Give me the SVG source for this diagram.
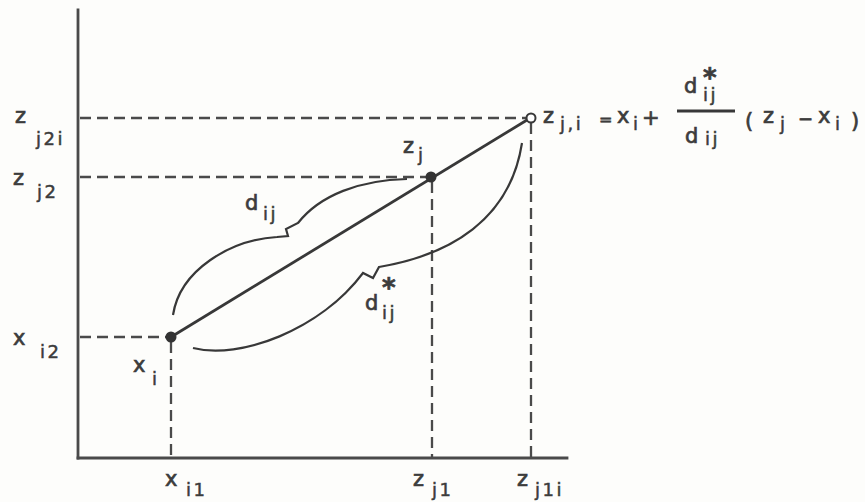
<svg xmlns="http://www.w3.org/2000/svg" width="865" height="502" viewBox="0 0 865 502">
<style>
.ax{stroke:#4a4a4a;stroke-width:2.8;fill:none;stroke-linecap:square}
.dash{stroke:#4a4a4a;stroke-width:2.3;fill:none;stroke-dasharray:11 6}
.ln{stroke:#383838;stroke-width:2.8;fill:none}
.br{stroke:#383838;stroke-width:2.2;fill:none;stroke-linejoin:miter}
.t{font-family:"DejaVu Sans","Liberation Sans",sans-serif;font-size:21px;fill:#3c3c3c;stroke:#3c3c3c;stroke-width:0.7}
.s{font-size:18px;letter-spacing:2.5px;stroke-width:0.5}
.st{font-weight:bold;font-size:26px;letter-spacing:0}
.dot{fill:#333}
.open{fill:#fff;stroke:#383838;stroke-width:2}
</style>
<rect width="865" height="502" fill="#fdfdfb"/>
<g id="axes">
<line class="ax" x1="78" y1="10" x2="78" y2="458"/>
<line class="ax" x1="78" y1="458" x2="567" y2="458"/>
</g>
<g id="guides">
<line class="dash" x1="80" y1="118" x2="526" y2="118"/>
<line class="dash" x1="80" y1="177" x2="426" y2="177"/>
<line class="dash" x1="80" y1="337" x2="166" y2="337"/>
<line class="dash" x1="171" y1="342" x2="171" y2="457"/>
<line class="dash" x1="432" y1="182" x2="432" y2="457"/>
<line class="dash" x1="531" y1="123" x2="531" y2="457"/>
</g>
<g id="connectors">
<line class="ln" x1="171" y1="337" x2="527" y2="120"/>
<path class="br" d="M173,315 C180,270 230,240 277,237 L288,236 L286,229 L298,223 C320,195 360,180 407,179"/>
<path class="br" d="M193,348 C240,360 320,330 363,273 L373,278 L379,267 C450,255 510,220 522,143"/>
</g>
<g id="node-xi">
<circle class="dot" cx="171" cy="337" r="5.5"/>
<text class="t" x="133" y="372">x<tspan class="s" x="152" y="385">i</tspan></text>
</g>
<g id="node-zj">
<circle class="dot" cx="431" cy="177" r="5.5"/>
<text class="t" x="403" y="153">z<tspan class="s" x="418" y="161">j</tspan></text>
</g>
<g id="node-zji">
<circle class="open" cx="531" cy="118" r="4.5"/>
<text class="t" x="543" y="123">z<tspan class="s" x="560" y="130">j,i</tspan></text>
<text class="t" x="599" y="125" style="font-size:16px">=</text>
<text class="t" x="617" y="123">x<tspan class="s" x="633" y="130">i</tspan></text>
<text class="t" x="642" y="125">+</text>
<line class="ln" x1="677" y1="111" x2="735" y2="111"/>
<text class="t" x="684" y="93">d<tspan class="st" x="703" y="87">*</tspan><tspan class="s" x="703" y="101">ij</tspan></text>
<text class="t" x="685" y="143">d<tspan class="s" x="705" y="145">ij</tspan></text>
<text class="t" x="745" y="128">(</text>
<text class="t" x="763" y="123">z<tspan class="s" x="780" y="130">j</tspan></text>
<text class="t" x="798" y="125" style="font-size:18px">−</text>
<text class="t" x="818" y="123">x<tspan class="s" x="835" y="130">i</tspan></text>
<text class="t" x="851" y="128">)</text>
</g>
<g id="brace-labels">
<text class="t" x="245" y="210">d<tspan class="s" x="263" y="220">ij</tspan></text>
<text class="t" x="365" y="310">d<tspan class="st" x="382" y="297">*</tspan><tspan class="s" x="382" y="319">ij</tspan></text>
</g>
<g id="axis-labels">
<text class="t" x="15" y="123">z<tspan class="s" x="36" y="145">j2i</tspan></text>
<text class="t" x="13" y="185">z<tspan class="s" x="37" y="198">j2</tspan></text>
<text class="t" x="13" y="345">x<tspan class="s" x="40" y="358">i2</tspan></text>
<text class="t" x="165" y="486">x<tspan class="s" x="186" y="496">i1</tspan></text>
<text class="t" x="413" y="486">z<tspan class="s" x="432" y="496">j1</tspan></text>
<text class="t" x="517" y="486">z<tspan class="s" x="535" y="496">j1i</tspan></text>
</g>
</svg>
